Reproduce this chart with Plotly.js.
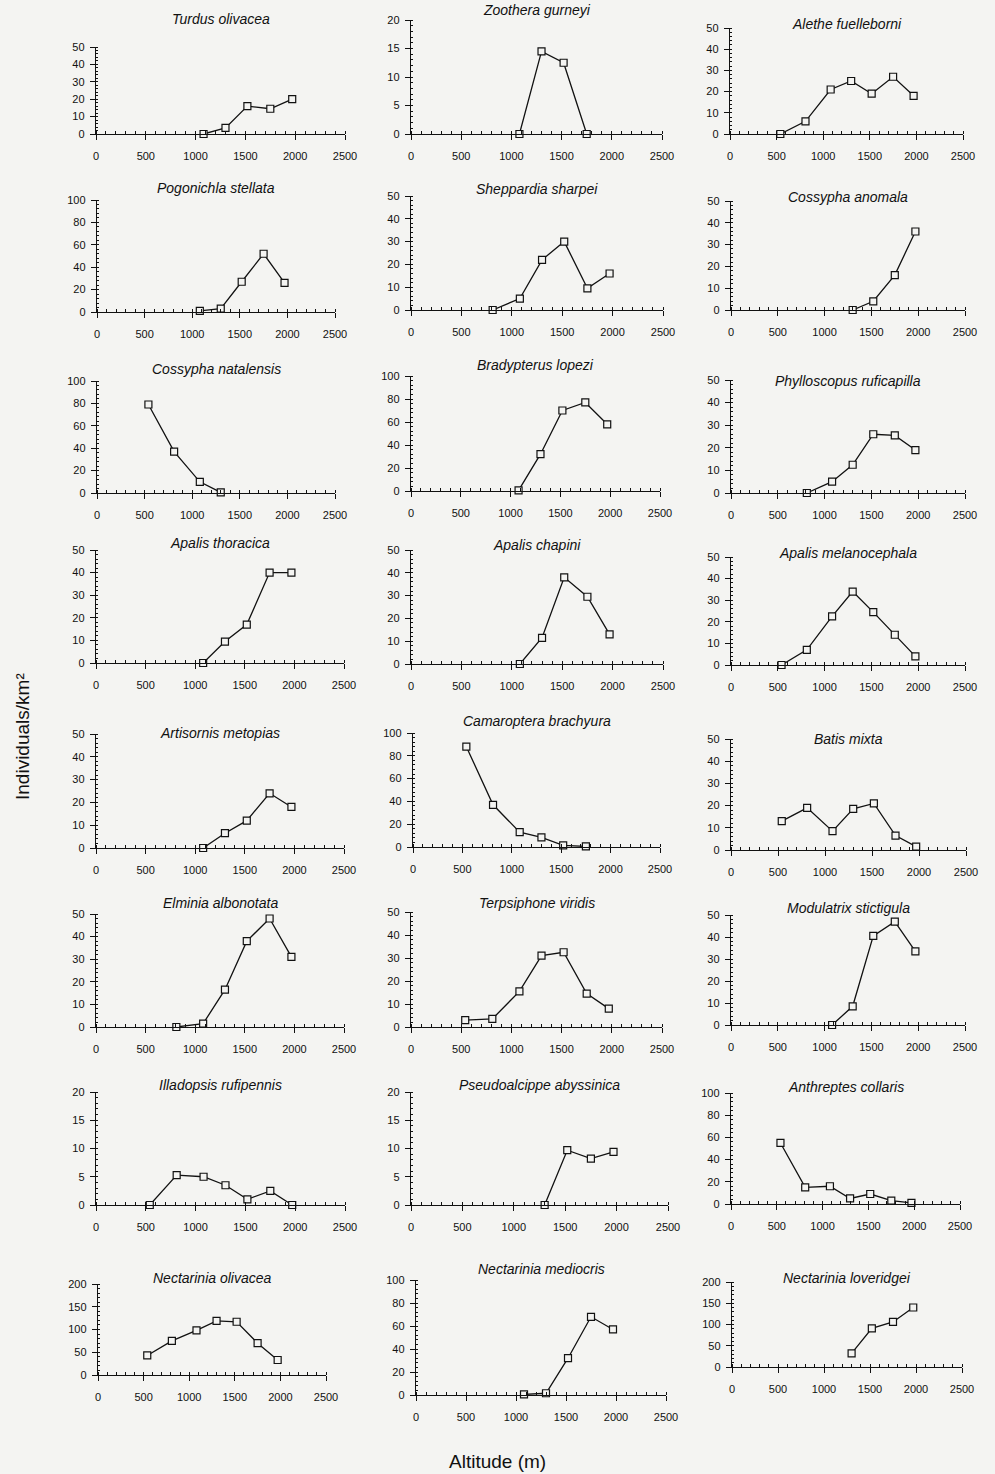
<!DOCTYPE html>
<html>
<head>
<meta charset="utf-8">
<script src="https://cdn.plot.ly/plotly-3.0.1.min.js"></script>
<style>html,body{margin:0;padding:0;background:#f4f4f2;}#chart{width:995px;height:1474px;}</style>
</head>
<body>
<div id="chart"></div>
<script>
// ---------- DATA ----------
const altitude = [540, 810, 1080, 1300, 1520, 1750, 1970];
const xTickLabels = ['0', '500', '1000', '1500', '2000', '2500'];

const speciesNames = [
  'Turdus olivacea', 'Zoothera gurneyi', 'Alethe fuelleborni',
  'Pogonichla stellata', 'Sheppardia sharpei', 'Cossypha anomala',
  'Cossypha natalensis', 'Bradypterus lopezi', 'Phylloscopus ruficapilla',
  'Apalis thoracica', 'Apalis chapini', 'Apalis melanocephala',
  'Artisornis metopias', 'Camaroptera brachyura', 'Batis mixta',
  'Elminia albonotata', 'Terpsiphone viridis', 'Modulatrix stictigula',
  'Illadopsis rufipennis', 'Pseudoalcippe abyssinica', 'Anthreptes collaris',
  'Nectarinia olivacea', 'Nectarinia mediocris', 'Nectarinia loveridgei'
];
const yMax      = [50, 20, 50, 100, 50, 50, 100, 100, 50, 50, 50, 50, 50, 100, 50, 50, 50, 50, 20, 20, 100, 200, 100, 200];
const yTickStep = [10, 5, 10, 20, 10, 10, 20, 20, 10, 10, 10, 10, 10, 20, 10, 10, 10, 10, 5, 5, 20, 50, 20, 50];

const turdusOlivacea          = [null, null, 0, 3.5, 16, 14.5, 20];
const zootheraGurneyi         = [null, null, 0, 14.5, 12.5, 0, null];
const aletheFuelleborni       = [0, 6, 21, 25, 19, 27, 18];
const pogonichlaStellata      = [null, null, 1, 3, 27, 52, 26];
const sheppardiaSharpei       = [null, 0, 5, 22, 30, 9.5, 16];
const cossyphaAnomala         = [null, null, null, 0, 4, 16, 36];
const cossyphaNatalensis      = [79, 37, 10, 0.5, null, null, null];
const bradypterusLopezi       = [null, null, 0.5, 32, 70, 77, 58];
const phylloscopusRuficapilla = [null, 0, 5, 12.5, 26, 25.5, 19];
const apalisThoracica         = [null, null, 0, 9.5, 17, 40, 40];
const apalisChapini           = [null, null, 0, 11.5, 38, 29.5, 13];
const apalisMelanocephala     = [0, 7, 22.5, 34, 24.5, 14, 4];
const artisornisMetopias      = [null, null, 0, 6.5, 12, 24, 18];
const camaropteraBrachyura    = [88, 37, 13, 8.5, 1.5, 0.5, null];
const batisMixta              = [13, 19, 8.5, 18.5, 21, 6.5, 1.5];
const elminiaAlbonotata       = [null, 0, 1.5, 16.5, 38, 48, 31];
const terpsiphoneViridis      = [3, 3.5, 15.5, 31, 32.5, 14.5, 8];
const modulatrixStictigula    = [null, null, 0, 8.5, 40.5, 47, 33.5];
const illadopsisRufipennis    = [0, 5.3, 5, 3.5, 1, 2.5, 0];
const pseudoalcippeAbyssinica = [null, null, null, 0, 9.7, 8.2, 9.4];
const anthreptesCollaris      = [55, 15, 16, 5, 9, 3, 1];
const nectariniaOlivacea      = [43, 75, 98, 119, 117, 70, 33];
const nectariniaMediocris     = [null, null, 0.5, 1.5, 32, 68, 57];
const nectariniaLoveridgei    = [null, null, null, 32, 91, 106, 140];

const speciesValues = [
  turdusOlivacea, zootheraGurneyi, aletheFuelleborni,
  pogonichlaStellata, sheppardiaSharpei, cossyphaAnomala,
  cossyphaNatalensis, bradypterusLopezi, phylloscopusRuficapilla,
  apalisThoracica, apalisChapini, apalisMelanocephala,
  artisornisMetopias, camaropteraBrachyura, batisMixta,
  elminiaAlbonotata, terpsiphoneViridis, modulatrixStictigula,
  illadopsisRufipennis, pseudoalcippeAbyssinica, anthreptesCollaris,
  nectariniaOlivacea, nectariniaMediocris, nectariniaLoveridgei
];

// ---------- LAYOUT (pixel boxes: x of 0, x of 2500, y of top, y of 0, title y) ----------
const W = 995, H = 1474;
const panelBoxes = [
  [96, 345, 47, 134, 19], [411, 662, 20, 134, 10], [730, 963, 28, 134, 24],
  [97, 335, 200, 312, 188], [411, 663, 196, 310, 189], [731, 965, 201, 310, 197],
  [97, 335, 381, 493, 369], [411, 660, 376, 491, 365], [731, 965, 380, 493, 381],
  [96, 344, 550, 663, 543], [411, 663, 550, 664, 545], [731, 965, 557, 665, 553],
  [96, 344, 734, 848, 733], [413, 660, 733, 847, 721], [731, 966, 739, 850, 739],
  [96, 344, 914, 1027, 903], [411, 662, 912, 1027, 903], [731, 965, 915, 1025, 908],
  [96, 345, 1092, 1205, 1085], [411, 668, 1092, 1205, 1085], [731, 960, 1093, 1204, 1087],
  [98, 326, 1284, 1375, 1278], [416, 666, 1280, 1395, 1269], [732, 962, 1282, 1367, 1278]
];

const FONT = '"Liberation Sans Narrow", "Arial Narrow", "Liberation Sans", Arial, sans-serif';
const INK = '#111111';
const BG = '#f4f4f2';

const traces = [];
const layout = {
  width: W, height: H,
  margin: {l: 0, r: 0, t: 0, b: 0},
  paper_bgcolor: BG, plot_bgcolor: 'rgba(0,0,0,0)',
  showlegend: false,
  annotations: []
};

speciesNames.forEach((name, i) => {
  const n = i + 1;
  const sfx = n === 1 ? '' : String(n);
  const [x0, x1, yTop, yBot, tY] = panelBoxes[i];
  traces.push({
    x: altitude, y: speciesValues[i],
    xaxis: 'x' + sfx, yaxis: 'y' + sfx,
    type: 'scatter', mode: 'lines+markers',
    cliponaxis: false,
    line: {color: INK, width: 1.3},
    marker: {symbol: 'square', size: 7, color: BG, line: {color: INK, width: 1.2}},
    hoverinfo: 'x+y'
  });
  layout['xaxis' + sfx] = {
    domain: [x0 / W, x1 / W], anchor: 'y' + sfx,
    range: [0, 2500], tickmode: 'array',
    tickvals: xTickLabels.map(Number), ticktext: xTickLabels,
    ticks: 'outside', ticklen: 5, tickwidth: 1, tickcolor: INK,
    minor: {dtick: 100, tick0: 0, ticks: 'inside', ticklen: 3, tickwidth: 1, tickcolor: INK, showgrid: false},
    showline: true, linecolor: INK, linewidth: 1.2,
    showgrid: false, zeroline: false,
    tickfont: {family: FONT, size: 11, color: INK},
    ticklabelstandoff: 7,
    fixedrange: true
  };
  layout['yaxis' + sfx] = {
    domain: [1 - yBot / H, 1 - yTop / H], anchor: 'x' + sfx,
    range: [0, yMax[i]], tickmode: 'linear', tick0: 0, dtick: yTickStep[i],
    ticks: 'outside', ticklen: 5, tickwidth: 1, tickcolor: INK,
    minor: {dtick: yTickStep[i] / 5, ticks: 'inside', ticklen: 2, tickwidth: 1, tickcolor: INK, showgrid: false},
    showline: true, linecolor: INK, linewidth: 1.2,
    showgrid: false, zeroline: false,
    tickfont: {family: FONT, size: 11, color: INK},
    ticklabelstandoff: 3,
    fixedrange: true
  };
  layout.annotations.push({
    text: name, xref: 'paper', yref: 'paper',
    x: (x0 + x1) / 2 / W, y: 1 - tY / H,
    xanchor: 'center', yanchor: 'middle', showarrow: false,
    font: {family: FONT, size: 14, color: INK, style: 'italic'}
  });
});

layout.annotations.push({
  text: 'Individuals/km²', xref: 'paper', yref: 'paper',
  x: 22 / W, y: 1 - 737 / H, xanchor: 'center', yanchor: 'middle',
  textangle: -90, showarrow: false,
  font: {family: '"Liberation Sans", Arial, sans-serif', size: 19, color: INK}
});
layout.annotations.push({
  text: 'Altitude (m)', xref: 'paper', yref: 'paper',
  x: 497 / W, y: 1 - 1461 / H, xanchor: 'center', yanchor: 'middle',
  showarrow: false,
  font: {family: '"Liberation Sans", Arial, sans-serif', size: 19, color: INK}
});

Plotly.newPlot('chart', traces, layout, {staticPlot: true, displayModeBar: false});
</script>
</body>
</html>
